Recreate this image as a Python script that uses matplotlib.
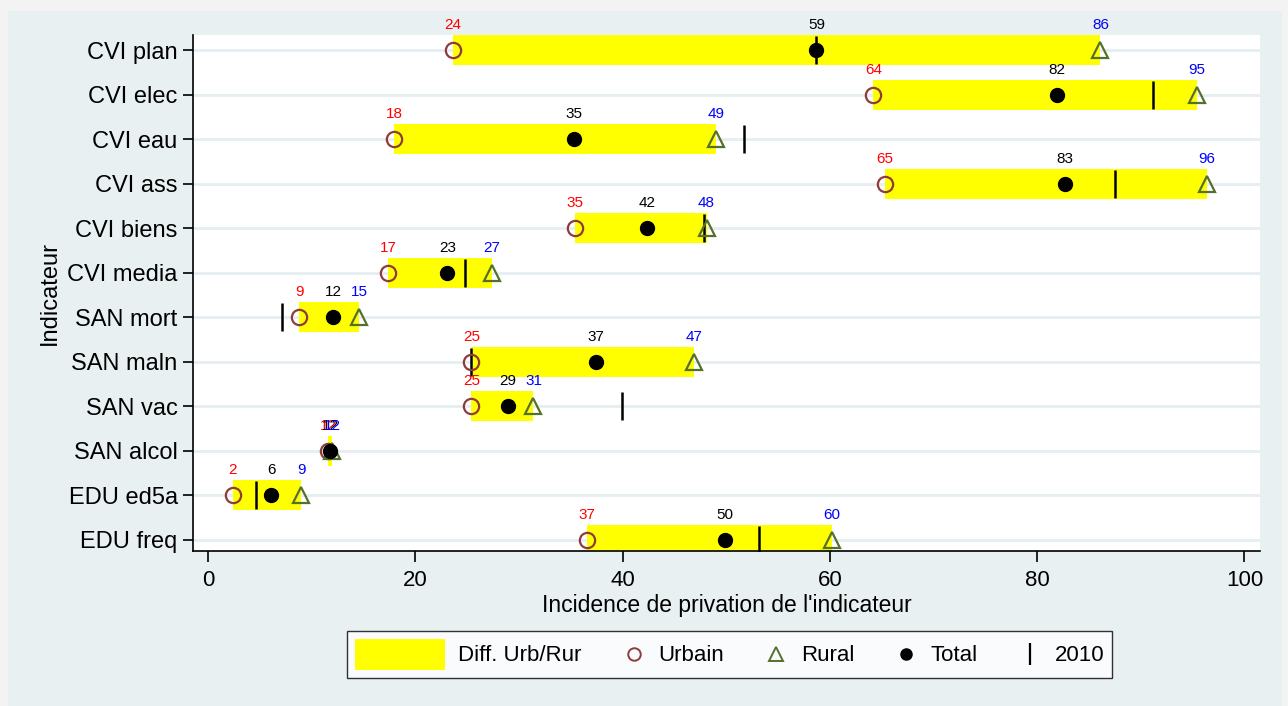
import numpy as np
import matplotlib
matplotlib.use("Agg")
import matplotlib.pyplot as plt
from matplotlib.patches import Rectangle, Patch
from matplotlib.lines import Line2D
from matplotlib.legend_handler import HandlerPatch

plt.rcParams['font.family'] = ['Liberation Sans', 'DejaVu Sans']

# data
indicateurs = ["CVI plan", "CVI elec", "CVI eau", "CVI ass", "CVI biens", "CVI media",
               "SAN mort", "SAN maln", "SAN vac", "SAN alcol", "EDU ed5a", "EDU freq"]
urbain = [23.6, 64.2, 17.95, 65.3, 35.4, 17.4, 8.8, 25.4, 25.4, 11.6, 2.4, 36.6]
rural = [86.1, 95.4, 49.0, 96.4, 48.1, 27.4, 14.6, 46.9, 31.4, 12.0, 9.0, 60.2]
total = [58.7, 81.9, 35.3, 82.7, 42.4, 23.1, 12.1, 37.4, 28.9, 11.8, 6.1, 49.9]
an2010 = [58.7, 91.2, 51.7, 87.5, 47.9, 24.8, 7.1, 25.4, 39.9, np.nan, 4.6, 53.2]

bg = '#E8F0F2'
grid_col = '#E6EEF1'
c_urb = '#8E3B3E'
c_rur = '#55702D'

fig = plt.figure(figsize=(12.88, 7.06), dpi=100, facecolor='#F3F3F3')
fig.patches.append(Rectangle((8 / 1288, 0), 1274 / 1288, 695 / 706,
                             transform=fig.transFigure, facecolor=bg,
                             edgecolor='none', zorder=-10))

ax = fig.add_axes([193 / 1288, (706 - 551) / 706, (1260 - 193) / 1288, (551 - 35) / 706])
ax.set_facecolor('white')

pos = np.arange(1, len(indicateurs) + 1)
urb = np.array(urbain)
rur = np.array(rural)

for p in pos:
    ax.axhline(p, color=grid_col, lw=2, zorder=0)

ax.barh(pos, rur - urb, left=urb, height=0.68, color='#FFFF00', zorder=1)
ax.plot(an2010, pos, ls='none', marker='|', ms=20, mew=1.8, color='black', zorder=3)
ax.plot(urbain, pos, ls='none', marker='o', ms=11, mfc='none', mec=c_urb, mew=1.6, zorder=4)
ax.plot(rural, pos, ls='none', marker='^', ms=12, mfc='none', mec=c_rur, mew=1.6, zorder=4)
ax.plot(total, pos, ls='none', marker='o', ms=10, color='black', zorder=5)

for vals, col in [(urbain, 'red'), (total, 'black'), (rural, 'blue')]:
    for v, p in zip(vals, pos):
        ax.annotate(f"{round(v)}", (v, p), xytext=(0, 18), textcoords='offset points',
                    ha='center', va='center', fontsize=11, color=col, zorder=6)

ax.set_xlim(-1.45, 101.5)
ax.set_ylim(12.25, 0.66)
ax.set_yticks(pos)
ax.set_yticklabels(indicateurs)
ax.set_xticks([0, 20, 40, 60, 80, 100])
ax.tick_params(axis='y', labelsize=17, length=7, width=1.2, pad=4)
ax.tick_params(axis='x', labelsize=16, length=8, width=1.2, pad=6)
for s in ['top', 'right']:
    ax.spines[s].set_visible(False)
for s in ['left', 'bottom']:
    ax.spines[s].set_linewidth(1.2)
ax.set_xlabel("Incidence de privation de l'indicateur", fontsize=16.5, labelpad=2)
ax.set_ylabel("Indicateur", fontsize=17, labelpad=5)


class WidePatch(HandlerPatch):
    def legend_artist(self, legend, orig_handle, fontsize, handlebox):
        handlebox.width = 65
        handlebox.height = 22
        handlebox.ydescent = 6
        return super().legend_artist(legend, orig_handle, fontsize, handlebox)


handles = [
    Patch(facecolor='#FFFF00', edgecolor='none'),
    Line2D([], [], ls='none', marker='o', ms=9, mfc='none', mec=c_urb, mew=1.4),
    Line2D([], [], ls='none', marker='^', ms=10, mfc='none', mec=c_rur, mew=1.4),
    Line2D([], [], ls='none', marker='o', ms=8, color='black'),
    Line2D([], [], ls='none', marker='|', ms=16, mew=1.6, color='black'),
]
labels = ["Diff. Urb/Rur", "Urbain", "Rural", "Total", "2010"]
leg = fig.legend(handles, labels, loc='center', bbox_to_anchor=(729.5 / 1288, (706 - 654.5) / 706),
                 ncol=5, fontsize=16, frameon=True, fancybox=False, edgecolor='black',
                 handlelength=1.0, handletextpad=0.6, columnspacing=1.85,
                 borderpad=0.35, handler_map={Patch: WidePatch()})
leg.get_frame().set_linewidth(1.0)

fig.savefig("out.png", dpi=100, facecolor=fig.get_facecolor())
